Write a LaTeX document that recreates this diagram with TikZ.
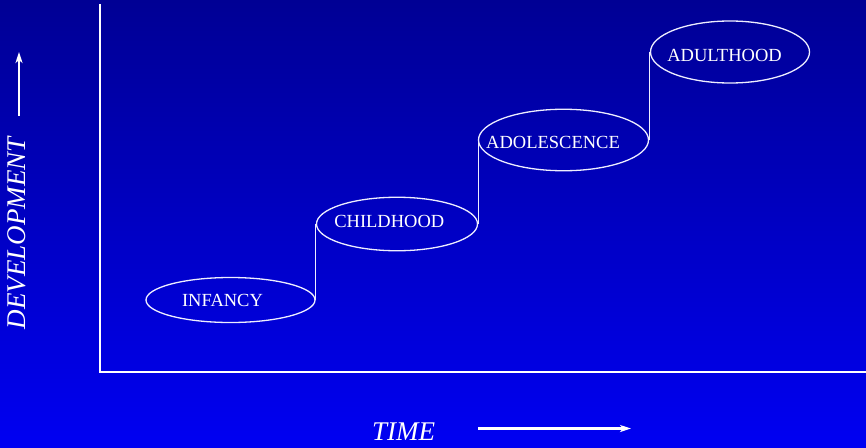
\documentclass[tikz,border=0pt]{standalone}
\usepackage{fontspec}
\setmainfont{Liberation Serif}
\usetikzlibrary{shapes.geometric,arrows.meta}
\definecolor{bgtop}{RGB}{0,0,148}
\definecolor{bgbot}{RGB}{0,0,242}
\definecolor{stroke}{RGB}{238,238,255}
\begin{document}
\begin{tikzpicture}[x=1pt,y=-1pt,
  stage/.style={ellipse,draw=stroke,line width=1.3pt,inner sep=0pt},
  stagetext/.style={text=white,font=\fontsize{18.5}{20}\selectfont,inner sep=0pt},
  riser/.style={draw=stroke,line width=1.2pt},
  axisline/.style={draw=white,line width=2.6pt},
  axislabel/.style={text=white,font=\fontsize{27}{30}\selectfont\itshape,inner sep=0pt},
  pointer/.style={draw=white,line width=2.2pt,-{Stealth[length=11pt,width=7pt,inset=3pt]}}]
  % backdrop
  \useasboundingbox (0,0) rectangle (866,447);
  \shade[top color=bgtop,bottom color=bgbot] (0,0) rectangle (866,447);
  % axes
  \coordinate (ytop) at (100,4);
  \coordinate (origin) at (100,372);
  \coordinate (xend) at (866,372);
  \draw[axisline] (ytop) -- (origin) -- (xend);
  % stages
  \node[stage,minimum width=169pt,minimum height=45pt,
        label={[stagetext,xshift=-8pt,yshift=-0.5pt]center:INFANCY}] (inf) at (230.5,300) {};
  \node[stage,minimum width=161pt,minimum height=53.5pt,
        label={[stagetext,xshift=-7.7pt,yshift=3pt]center:CHILDHOOD}] (chi) at (397,224) {};
  \node[stage,minimum width=170pt,minimum height=61.5pt,
        label={[stagetext,xshift=-10.5pt,yshift=-2.7pt]center:ADOLESCENCE}] (ado) at (563.5,140) {};
  \node[stage,minimum width=159pt,minimum height=62pt,
        label={[stagetext,xshift=-5.5pt,yshift=-3pt]center:ADULTHOOD}] (adu) at (730,52) {};
  % risers between stages
  \draw[riser] (inf.east) -- (inf.east |- chi.west);
  \draw[riser] (chi.east) -- (chi.east |- ado.west);
  \draw[riser] (ado.east) -- (ado.east |- adu.west);
  % axis titles
  \node[axislabel,rotate=90] (dev) at (17,233) {DEVELOPMENT};
  \coordinate (devfrom) at (19,116);
  \coordinate (devto) at (19,52);
  \draw[pointer] (devfrom) -- (devto);
  \node[axislabel] (time) at (403.5,432) {TIME};
  \coordinate (timefrom) at (478,428.5);
  \coordinate (timeto) at (631,428.5);
  \draw[pointer] (timefrom) -- (timeto);
\end{tikzpicture}
\end{document}
